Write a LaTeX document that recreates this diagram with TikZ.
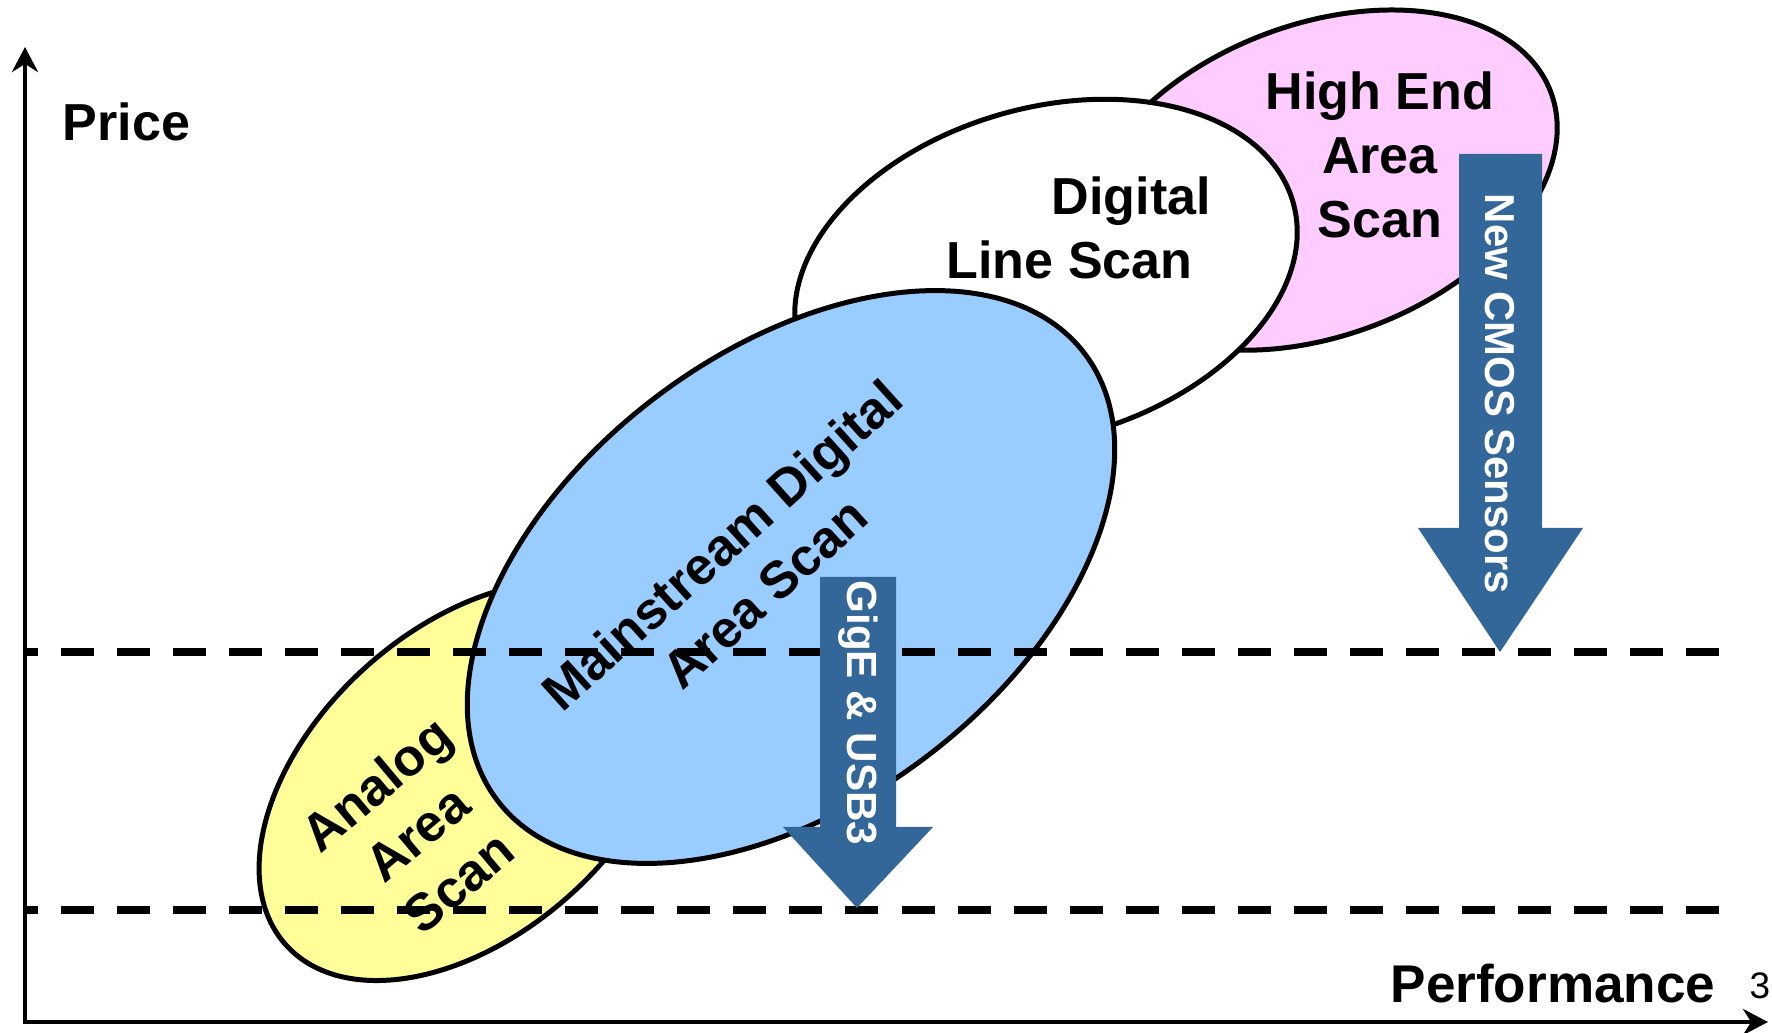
\documentclass[tikz,border=0pt]{standalone}
\usepackage{fontspec}
\setmainfont{Liberation Sans}
\usetikzlibrary{arrows.meta}
\definecolor{jaune}{RGB}{255,255,153}
\definecolor{bleuclair}{RGB}{153,204,255}
\definecolor{rose}{RGB}{255,204,255}
\definecolor{bleufleche}{RGB}{51,102,153}
\tikzset{
    bord/.style={draw=black,line width=1.42pt},
    axe/.style={line width=1.42pt,{Stealth[length=0.25cm,width=0.26cm]}-{Stealth[length=0.25cm,width=0.26cm]}},
    seuil/.style={line width=2.3pt,dash pattern=on 0.33cm off 0.23cm,dash phase=0.2cm},
    etiquette/.style={inner sep=0pt,font=\fontsize{14.8}{18.2}\selectfont\bfseries},
    texteblanc/.style={inner sep=0pt,text=white,rotate=-90,font=\fontsize{12}{14}\selectfont\bfseries},
  }
\begin{document}
\begin{tikzpicture}[x=0.01cm,y=0.01cm]
				  \useasboundingbox (0,0) rectangle (1772,1033);
				  %AXES
				  \coordinate (O) at (25,11);
				  \coordinate (Py) at (25,986);
				  \coordinate (Px) at (1768,11);
				  \draw[axe] (Py) |- (Px);
				  \node[etiquette,anchor=base west] (prix) at (62,892) {Price};
				  \node[etiquette,anchor=base west,font=\fontsize{15.1}{18.2}\selectfont\bfseries] (perf) at (1390,31) {Performance};
				  \node[inner sep=0pt,anchor=base west,font=\fontsize{10.5}{12}\selectfont] (page) at (1749,34) {3};
				  %ELLIPSES
				  \coordinate (High) at (1319,853);
				  \coordinate (Line) at (1046,760);
				  \coordinate (Anal) at (468,252);
				  \coordinate (Main) at (791,456);
				  \draw[bord,fill=rose,rotate around={20.9:(High)}] (High) ellipse (248 and 155.5);
				  \draw[bord,fill=white,rotate around={16:(Line)}] (Line) ellipse (257 and 165);
				  \draw[bord,fill=jaune,rotate around={42:(Anal)}] (Anal) ellipse (245 and 153);
				  \draw[bord,fill=bleuclair,rotate around={37.3:(Main)}] (Main) ellipse (369 and 225);
				  %seuils
				  \coordinate (s1) at (25,381);
				  \coordinate (s1') at (1720,381);
				  \coordinate (s2) at (25,123);
				  \coordinate (s2') at (1720,123);
				  \draw[seuil] (s1) -- (s1');
				  \draw[seuil] (s2) -- (s2');
				  %TEXTES
				  \node[etiquette,align=center] (tHigh) at (1380,878) {High End\\Area\\Scan};
				  \node[etiquette,align=left,anchor=west] (tLine) at (946,805) {\hspace*{1.05cm}Digital\\Line Scan};
				  \node[etiquette,align=center,rotate=40] (tAnal) at (417,200) {Analog\\Area\\Scan};
				  \node[etiquette,align=center,rotate=42] (tMain) at (743,464) {Mainstream Digital\\Area Scan};
				  %FLECHES
				  \fill[bleufleche] (820,456) -- (896,456) -- (896,206) -- (933,206) -- (857,125) coordinate (g) -- (783,206) -- (820,206) -- cycle;
				  \fill[bleufleche] (1459,879) -- (1542,879) -- (1542,505) -- (1583,505) -- (1500,381) coordinate (c) -- (1418,505) -- (1459,505) -- cycle;
				  \node[texteblanc] (tGig) at (858,320) {GigE \& USB3};
				  \node[texteblanc,font=\fontsize{11.9}{14}\selectfont\bfseries] (tCmos) at (1500,639) {New CMOS Sensors};
\end{tikzpicture}
\end{document}
